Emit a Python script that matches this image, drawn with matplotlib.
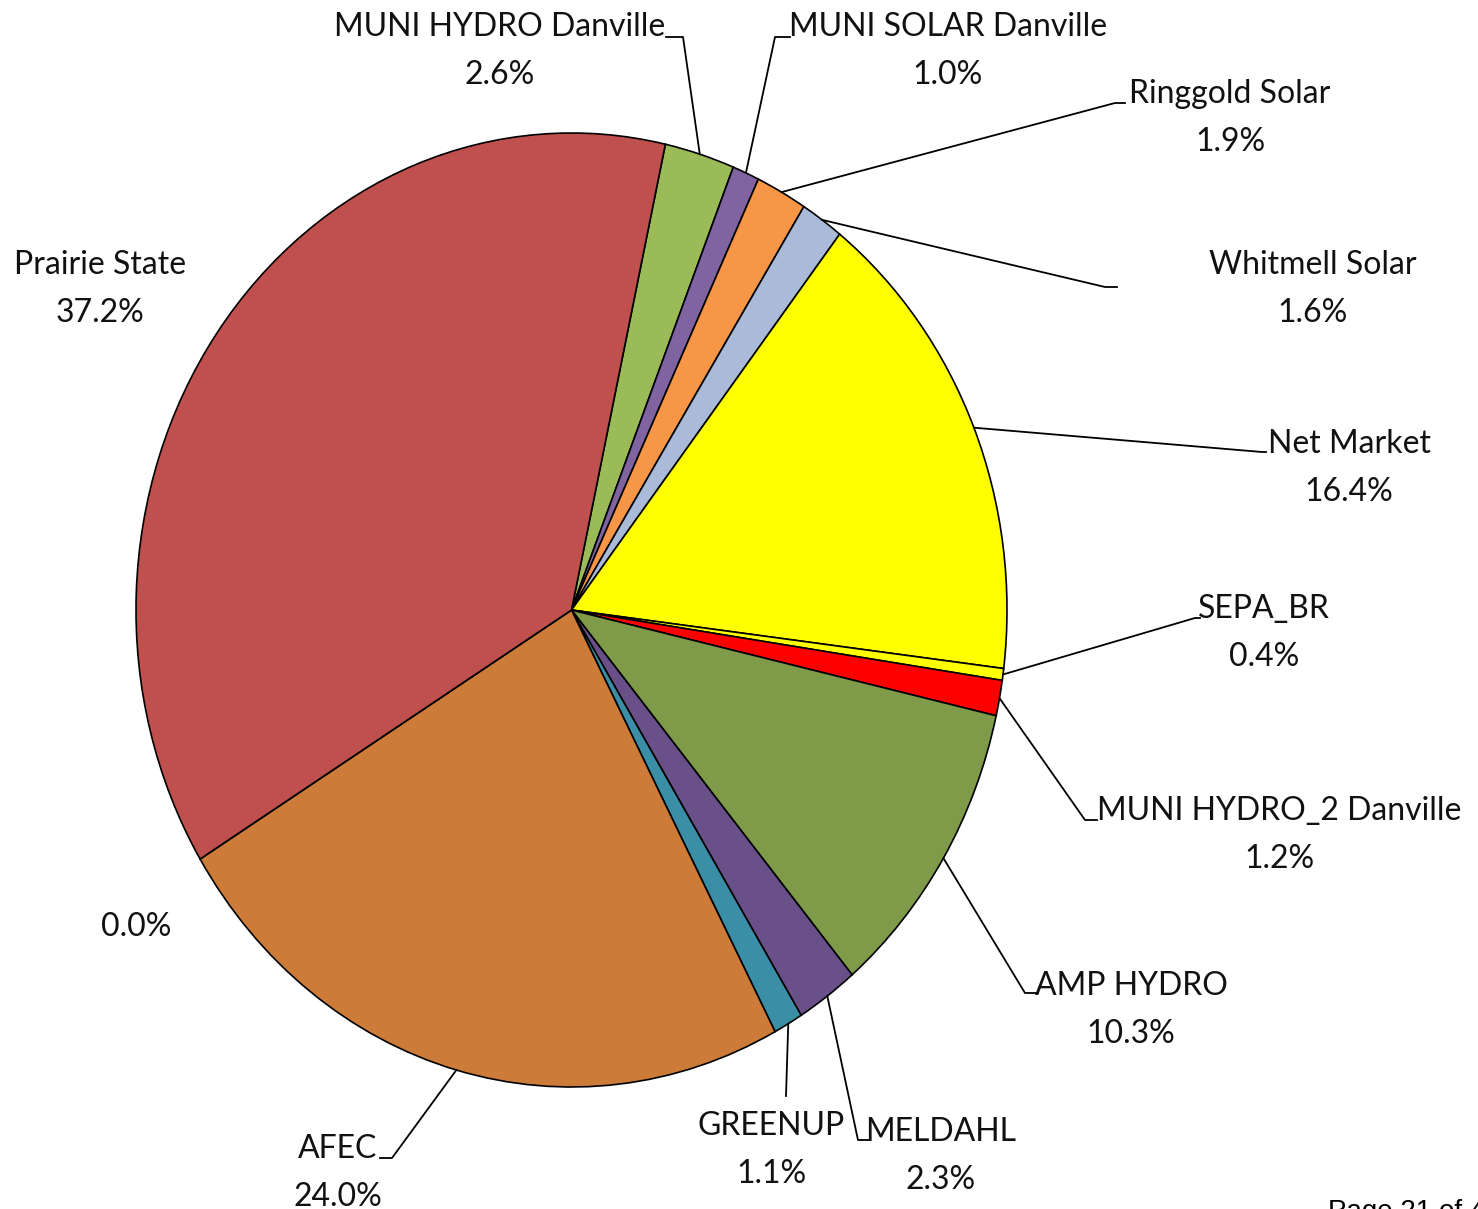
import matplotlib.pyplot as plt
import numpy as np

plt.rcParams['font.family'] = ['Lato', 'DejaVu Sans']

# slices in clockwise order, starting just right of 12 o'clock
names = ["MUNI HYDRO Danville", "MUNI SOLAR Danville", "Ringgold Solar",
         "Whitmell Solar", "Net Market", "SEPA_BR", "MUNI HYDRO_2 Danville",
         "AMP HYDRO", "MELDAHL", "GREENUP", "AFEC", "", "Prairie State"]
shares = [2.6, 1.0, 1.9, 1.6, 16.4, 0.4, 1.2, 10.3, 2.3, 1.1, 24.0, 0.0, 37.2]
colors = ["#9BBB59", "#8064A2", "#F79646", "#AABBD9", "#FFFF00", "#FFFF00",
          "#FF0000", "#7F9A48", "#6A5089", "#3A8FA6", "#CD7B38", "#FFFFFF",
          "#C0504D"]

# label layout in pixel coords (top-left origin): text centre, leader elbow, leader end x
label_pos = [(500, 51), (948, 51), (1230, 118), (1313, 289), (1349, 468),
             (1264, 633), (1279, 835), (1131, 1010), (941, 1156), (771, 1150),
             (338, 1173), (136, 927), (100, 289)]
elbows = [(683, 37), (775, 37), (1115, 103), (1105, 287), (1262, 452),
          (1195, 618), (1085, 820), (1025, 993), (858, 1140), (786, 1096),
          (392, 1158), None, None]
ends = [666, 790, 1125, 1117, 1266, 1200, 1097, 1038, 870, 786, 380, None, None]

W, H = 1478, 1209
cx, cy, rx, ry = 571.5, 610, 435.5, 477


def px(x, y):
    # pixel position -> data coords of the unit pie
    return (x - cx) / rx, (cy - y) / ry


fig = plt.figure(figsize=(W / 100, H / 100), dpi=100)
ax = fig.add_axes([0, 0, 1, 1])
wedges, _ = ax.pie(shares, colors=colors, startangle=77.55, counterclock=False,
                   wedgeprops=dict(edgecolor="black", linewidth=1.2))
ax.set_aspect('auto')
ax.set_xlim(px(0, 0)[0], px(W, 0)[0])
ax.set_ylim(px(0, H)[1], px(0, 0)[1])
ax.axis('off')

for w, name, val, pos, elb, ex in zip(wedges, names, shares, label_pos, elbows, ends):
    txt = f"{val:.1f}%" if name == "" else f"{name}\n{val:.1f}%"
    lx, ly = px(*pos)
    ax.text(lx, ly, txt, ha='center', va='center', fontsize=23,
            linespacing=1.72, color="#111111")
    if elb is None:
        continue
    mid = np.deg2rad((w.theta1 + w.theta2) / 2)
    x0, y0 = np.cos(mid), np.sin(mid)
    x1, y1 = px(*elb)
    x2, _ = px(ex, elb[1])
    ax.plot([x0, x1, x2], [y0, y1, y1], color="black", lw=1.3)

fig.text(1328 / W, 1 - 1199 / H, "Page 21 of 43", ha='left', va='top',
         fontsize=20, family='Liberation Sans')

fig.savefig("out.png", dpi=100)
